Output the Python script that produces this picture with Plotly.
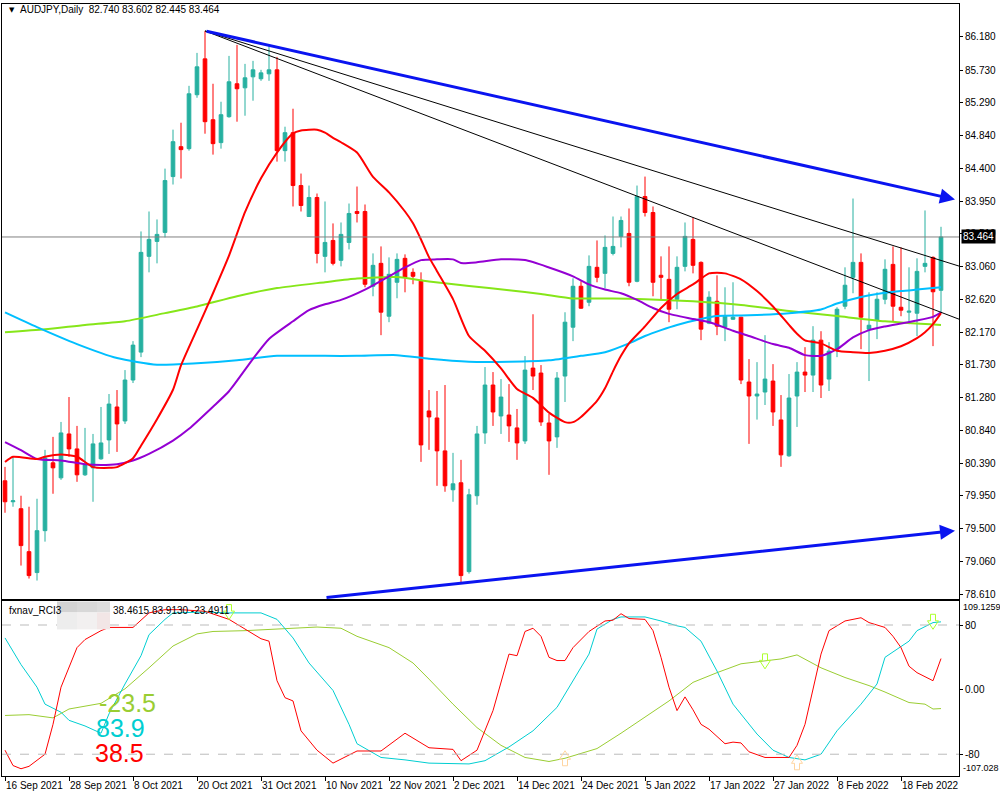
import pandas as pd
import plotly.graph_objects as go

# ---------------- data ----------------
dates = [d.strftime("%Y-%m-%d") for d in pd.bdate_range("2021-09-16", "2022-02-25")]
dates.append("2021-10-31")
dates = sorted(dates)

tick_labels = ["16 Sep 2021", "28 Sep 2021", "8 Oct 2021", "20 Oct 2021", "31 Oct 2021",
               "10 Nov 2021", "22 Nov 2021", "2 Dec 2021", "14 Dec 2021", "24 Dec 2021",
               "5 Jan 2022", "17 Jan 2022", "27 Jan 2022", "8 Feb 2022", "18 Feb 2022"]

opens = [80.154, 79.869, 79.775, 79.192, 78.908, 79.477, 80.398, 80.194, 80.790, 80.587,
         80.235, 80.330, 80.452, 80.709, 81.156, 80.966, 81.522, 81.901, 83.201, 83.404,
         83.526, 84.284, 84.690, 84.663, 85.395, 85.882, 85.056, 84.745, 85.097, 85.544,
         85.489, 85.638, 85.612, 85.679, 85.733, 84.636, 84.880, 84.162, 83.742, 84.000,
         83.201, 83.417, 83.147, 83.390, 83.810, 83.810, 82.795, 83.106, 82.388, 82.849,
         83.174, 82.984, 82.876, 81.102, 81.007, 80.560, 80.032, 80.127, 78.921, 79.951,
         80.804, 81.454, 81.034, 81.047, 80.872, 80.695, 81.684, 81.617, 80.939, 80.750,
         81.576, 82.239, 82.795, 82.578, 83.052, 82.970, 83.241, 83.472, 83.512, 82.862,
         84.013, 83.796, 82.944, 82.889, 82.618, 83.065, 83.431, 83.119, 82.294, 82.591,
         82.239, 82.347, 82.375, 81.495, 81.305, 81.359, 81.508, 80.980, 80.493, 81.305,
         81.630, 81.589, 82.063, 81.535, 81.941, 82.524, 82.916, 83.119, 82.212, 82.334,
         82.619, 83.092, 82.510, 82.443, 82.429, 83.065, 83.187, 82.740]
highs = [80.343, 80.479, 79.951, 79.802, 79.910, 80.574, 80.750, 80.953, 81.291, 80.899,
         80.872, 80.790, 81.156, 81.332, 81.386, 81.657, 82.050, 83.539, 83.810, 83.702,
         84.392, 84.921, 85.015, 85.516, 85.963, 86.261, 85.544, 85.300, 85.922, 86.072,
         85.814, 85.855, 85.733, 86.058, 85.909, 84.961, 85.205, 84.325, 84.162, 84.054,
         83.946, 83.648, 83.661, 83.918, 84.149, 83.905, 83.241, 83.336, 83.187, 83.241,
         83.228, 83.038, 82.984, 81.386, 81.373, 81.454, 80.533, 80.438, 80.045, 80.899,
         81.698, 81.630, 81.535, 81.467, 81.129, 81.847, 82.415, 81.725, 81.061, 81.630,
         82.442, 82.903, 82.862, 83.214, 83.417, 83.485, 83.742, 83.742, 83.851, 84.162,
         84.284, 83.878, 83.201, 83.336, 83.201, 83.661, 83.729, 83.133, 82.727, 82.943,
         82.781, 82.849, 82.380, 81.806, 81.765, 82.131, 81.738, 81.318, 81.603, 81.765,
         81.968, 82.253, 82.185, 82.036, 82.510, 83.052, 83.986, 83.241, 82.713, 82.713,
         83.160, 83.336, 83.323, 83.052, 83.174, 83.824, 83.200, 83.602]
lows = [79.720, 79.802, 79.003, 78.827, 78.800, 79.328, 79.978, 80.167, 80.479, 80.140,
        80.220, 79.869, 80.440, 80.519, 80.546, 80.926, 81.481, 81.833, 82.984, 83.106,
        83.458, 84.176, 84.257, 84.636, 85.354, 84.866, 84.582, 84.663, 85.083, 85.029,
        85.110, 85.314, 85.584, 85.584, 84.487, 84.487, 83.878, 83.810, 83.735, 83.106,
        82.984, 83.079, 83.065, 83.295, 83.661, 82.781, 82.659, 82.131, 82.307, 82.632,
        82.713, 82.822, 80.411, 80.574, 80.086, 80.005, 79.869, 78.759, 78.894, 79.829,
        80.655, 80.899, 80.790, 80.682, 80.438, 80.655, 81.386, 80.899, 80.235, 80.601,
        81.224, 82.050, 82.490, 82.524, 82.849, 82.768, 83.214, 83.323, 82.795, 82.849,
        83.742, 82.659, 82.618, 82.307, 82.483, 82.997, 82.970, 82.063, 82.280, 82.131,
        82.050, 82.340, 81.467, 80.655, 80.985, 81.183, 80.899, 80.343, 80.480, 80.885,
        81.359, 81.359, 81.278, 81.373, 81.833, 82.483, 82.700, 81.941, 81.508, 82.077,
        82.551, 82.321, 82.388, 82.280, 82.118, 82.984, 81.982, 82.445]
closes = [79.869, 79.882, 79.274, 78.867, 79.477, 80.465, 80.330, 80.804, 80.587, 80.235,
          80.370, 80.655, 80.668, 81.196, 80.926, 81.522, 81.996, 83.255, 83.431, 83.499,
          84.230, 84.758, 84.650, 85.408, 85.774, 85.029, 84.731, 85.124, 85.571, 85.476,
          85.625, 85.733, 85.692, 85.733, 84.636, 84.880, 84.162, 83.891, 84.000, 83.241,
          83.390, 83.106, 83.499, 83.783, 83.783, 82.822, 83.079, 82.443, 82.957, 83.160,
          82.916, 82.930, 80.641, 81.021, 80.560, 80.086, 80.113, 78.867, 79.964, 80.790,
          81.454, 81.088, 81.291, 80.899, 80.668, 81.657, 81.576, 80.953, 80.695, 81.549,
          82.307, 82.795, 82.497, 83.065, 82.916, 83.323, 83.336, 83.688, 82.849, 84.013,
          83.796, 82.849, 82.916, 82.483, 83.052, 83.472, 83.079, 82.213, 82.646, 82.253,
          82.388, 82.375, 81.522, 81.305, 81.332, 81.535, 81.088, 80.506, 81.278, 81.630,
          81.589, 82.063, 81.454, 81.915, 82.483, 82.809, 83.119, 82.375, 82.266, 82.619,
          83.025, 82.524, 82.470, 82.456, 82.997, 83.106, 82.720, 83.464]

ma_red_idx = [0, 1, 4, 5, 7, 9, 11, 13, 14, 16, 17, 19, 21, 22, 24, 26, 28, 30, 32, 34, 36, 37, 38, 39,
              40, 41, 42, 44, 46, 48, 50, 51, 52, 53, 54, 56, 58, 60, 62, 64, 66, 68, 70, 71, 72, 74,
              75, 76, 77, 78, 80, 82, 84, 86, 88, 89, 90, 92, 94, 96, 98, 99, 100, 102, 104, 106, 108,
              110, 112, 114, 115, 116, 117]
ma_red_val = [80.41, 80.48, 80.45, 80.48, 80.51, 80.48, 80.34, 80.33, 80.34, 80.46, 80.63, 80.99, 81.39,
              81.72, 82.21, 82.70, 83.21, 83.80, 84.26, 84.61, 84.87, 84.91, 84.92, 84.92, 84.88, 84.81,
              84.75, 84.61, 84.28, 84.07, 83.81, 83.65, 83.43, 83.19, 83.00, 82.62, 82.12, 81.92, 81.68,
              81.40, 81.28, 81.08, 80.95, 80.95, 81.02, 81.24, 81.41, 81.64, 81.85, 82.02, 82.25, 82.50,
              82.69, 82.82, 82.97, 82.98, 82.97, 82.89, 82.73, 82.52, 82.27, 82.15, 82.06, 82.02, 81.92,
              81.90, 81.89, 81.92, 81.98, 82.09, 82.17, 82.28, 82.43]

ma_purple_idx = [0, 2, 4, 7, 10, 12, 14, 16, 18, 21, 23, 26, 28, 31, 33, 36, 38, 40, 42, 45, 48, 50, 52,
                 54, 56, 57, 59, 62, 65, 68, 71, 73, 75, 77, 79, 81, 83, 86, 88, 91, 93, 96, 98, 100,
                 102, 104, 106, 108, 110, 112, 114, 116, 117]
ma_purple_val = [80.68, 80.57, 80.45, 80.43, 80.38, 80.37, 80.38, 80.43, 80.52, 80.70, 80.86, 81.16,
                 81.37, 81.81, 82.08, 82.32, 82.47, 82.55, 82.61, 82.75, 82.93, 83.05, 83.15, 83.16,
                 83.16, 83.11, 83.12, 83.16, 83.15, 83.05, 82.93, 82.82, 82.75, 82.70, 82.61, 82.50,
                 82.42, 82.35, 82.31, 82.19, 82.12, 82.01, 81.96, 81.86, 81.85, 81.94, 82.10, 82.20,
                 82.25, 82.29, 82.33, 82.38, 82.44]

ma_green_idx = [0, 5, 10, 15, 20, 24, 29, 34, 40, 44, 49, 53, 58, 63, 67, 71, 76, 80, 86, 92, 98, 104,
                110, 117]
ma_green_val = [82.17, 82.21, 82.27, 82.32, 82.43, 82.52, 82.66, 82.77, 82.85, 82.90, 82.92, 82.86,
                82.80, 82.74, 82.69, 82.63, 82.63, 82.62, 82.59, 82.54, 82.46, 82.39, 82.32, 82.27]

ma_blue_idx = [0, 4, 9, 14, 19, 24, 29, 34, 40, 44, 49, 53, 58, 63, 68, 72, 75, 78, 80, 82, 84, 87, 89,
               93, 98, 102, 104, 107, 109, 112, 114, 117]
ma_blue_val = [82.44, 82.24, 82.01, 81.82, 81.73, 81.75, 81.79, 81.85, 81.85, 81.85, 81.86, 81.81,
               81.77, 81.77, 81.79, 81.85, 81.90, 82.02, 82.12, 82.20, 82.27, 82.35, 82.39, 82.40,
               82.43, 82.48, 82.56, 82.65, 82.69, 82.73, 82.75, 82.78]

rci_red_idx = [0, 1, 2, 3, 5, 6, 7, 9, 10, 12, 13, 16, 17, 18, 20, 22, 25, 28, 30, 32, 33, 34, 35, 36,
               37, 39, 41, 42, 44, 47, 48, 50, 51, 53, 56, 57, 59, 61, 63, 64, 65, 66, 67, 68, 69, 70,
               71, 73, 75, 76, 77, 78, 80, 81, 82, 83, 84, 85, 86, 87, 88, 90, 91, 92, 93, 95, 98, 99,
               100, 101, 102, 103, 105, 107, 108, 110, 111, 112, 113, 114, 116, 117]
rci_red_val = [-75, -94, -98, -95, -80, -43, 3, 52, 62, 73, 77, 77, 86, 95, 99, 99, 97, 87, 75, 63, 60,
               11, -10, -14, -51, -75, -91, -86, -76, -76, -69, -54, -60, -72, -74, -88, -75, -26, 44,
               42, 72, 76, 66, 40, 36, 36, 52, 72, 85, 86, 94, 88, 87, 73, 40, 3, -26, -9, -25, -43,
               -49, -67, -65, -66, -77, -84, -84, -69, -43, -1, 44, 73, 85, 89, 83, 77, 66, 52, 29,
               21, 11, 38.4615]

rci_cyan_idx = [0, 2, 4, 5, 7, 8, 10, 11, 12, 13, 15, 17, 18, 20, 21, 25, 28, 32, 34, 36, 38, 41, 43,
                44, 47, 50, 53, 58, 60, 63, 66, 69, 71, 73, 74, 76, 77, 80, 82, 84, 85, 87, 89, 91, 94,
                96, 98, 100, 102, 104, 107, 109, 110, 113, 114, 116, 117]
rci_cyan_val = [64, 31, 3, -18, -28, -38, -45, -50, -54, -30, 7, 42, 68, 87, 95, 96, 95, 95, 87, 64,
                33, -1, -43, -67, -84, -87, -91, -92, -88, -71, -51, -22, 11, 44, 75, 87, 90, 90, 85,
                79, 77, 60, 23, -18, -55, -75, -84, -87, -80, -51, -18, 7, 40, 60, 73, 83, 83.913]

rci_green_idx = [0, 3, 6, 8, 12, 15, 18, 21, 24, 26, 30, 34, 37, 39, 42, 44, 48, 51, 53, 56, 59, 62,
                 65, 68, 70, 74, 77, 80, 83, 86, 89, 92, 95, 97, 99, 102, 105, 108, 110, 113, 115,
                 116, 117]
rci_green_val = [-32, -31, -35, -24, -17, 1, 27, 54, 69, 72, 73, 75, 76, 77.5, 76, 66, 52, 33, 13, -18,
                 -47, -69, -84, -89, -85, -73, -54, -34, -14, 9, 21, 32, 36, 38, 43, 27, 15, 5, -3,
                 -16, -18, -24, -23.4911]

sig_down_idx = [28, 95, 116]
sig_down_val = [96, 35, 84]
sig_up_idx = [70, 99]
sig_up_val = [-85, -90]

price_ticks = [86.180, 85.730, 85.290, 84.840, 84.400, 83.950, 83.510, 83.060, 82.620, 82.170,
               81.730, 81.280, 80.840, 80.390, 79.950, 79.500, 79.060, 78.610]
rci_ticks = [80, 0, -80]
rci_tick_text = ["80", "0.00", "-80"]

peak_idx, peak_price = 25, 86.261
blue_up_end = (118.75, 83.973)
fan_ends = [(119.25, 83.069), (119.25, 82.348)]
blue_low_start = (40, 78.567)
blue_low_end = (118.75, 79.477)

# ---------------- figure ----------------
FONT = "Liberation Sans"
XR = [-0.375, 119.25]

fig = go.Figure()

fig.add_trace(go.Candlestick(
    x=dates, open=opens, high=highs, low=lows, close=closes,
    increasing=dict(line=dict(color="#26B0A0", width=1), fillcolor="#26B0A0"),
    decreasing=dict(line=dict(color="#FF0000", width=1), fillcolor="#FF0000"),
    whiskerwidth=0, xaxis="x", yaxis="y", hoverinfo="skip"))

for idx, val, col in [(ma_green_idx, ma_green_val, "#86E619"),
                      (ma_blue_idx, ma_blue_val, "#00BFFF"),
                      (ma_purple_idx, ma_purple_val, "#9400D3"),
                      (ma_red_idx, ma_red_val, "#FF0000")]:
    fig.add_trace(go.Scatter(x=[dates[i] for i in idx], y=val, mode="lines",
                             line=dict(color=col, width=2, shape="spline", smoothing=0.6),
                             xaxis="x", yaxis="y", hoverinfo="skip"))

for idx, val, col in [(rci_green_idx, rci_green_val, "#9ACD32"),
                      (rci_cyan_idx, rci_cyan_val, "#00CED1"),
                      (rci_red_idx, rci_red_val, "#FF0000")]:
    fig.add_trace(go.Scatter(x=[dates[i] for i in idx], y=val, mode="lines",
                             line=dict(color=col, width=1),
                             xaxis="x2", yaxis="y2", hoverinfo="skip"))

shapes = []
# current price line
shapes.append(dict(type="line", xref="x", yref="y", x0=XR[0], x1=XR[1],
                   y0=closes[-1], y1=closes[-1], line=dict(color="#808080", width=1)))
# fan lines
for ex, ey in fan_ends:
    shapes.append(dict(type="line", xref="x", yref="y", x0=peak_idx, y0=peak_price,
                       x1=ex, y1=ey, line=dict(color="black", width=1)))
# RCI levels
for lv in [80, -80]:
    shapes.append(dict(type="line", xref="x2", yref="y2", x0=XR[0], x1=XR[1], y0=lv, y1=lv,
                       line=dict(color="#BBBBBB", width=1, dash="dash")))
# censored box in indicator title
for (x0, x1, y0, y1, c) in [(57, 77, 603, 614, "#D3D3D3"), (77, 97, 603, 614, "#D8D8D8"),
                            (97, 110, 603, 614, "#DDDDDD"), (57, 77, 614, 631, "#EDEDED"),
                            (77, 97, 614, 631, "#F2F0F0"), (97, 110, 614, 631, "#F2E6E6")]:
    shapes.append(dict(type="rect", xref="paper", yref="paper", x0=x0 / 1000, x1=x1 / 1000,
                       y0=1 - y1 / 800, y1=1 - y0 / 800, fillcolor=c, line=dict(width=0),
                       layer="above"))
# hollow signal arrows (fixed pixel size, anchored at data points)
down_path = "M -2.5,7.5 L 2.5,7.5 L 2.5,1 L 5.5,1 L 0,-7.5 L -5.5,1 L -2.5,1 Z"
up_path = "M -2.5,-7.5 L 2.5,-7.5 L 2.5,-1 L 5.5,-1 L 0,7.5 L -5.5,-1 L -2.5,-1 Z"
for i, v in zip(sig_down_idx, sig_down_val):
    shapes.append(dict(type="path", xref="x2", yref="y2", xsizemode="pixel", ysizemode="pixel",
                       xanchor=dates[i], yanchor=v, path=down_path,
                       line=dict(color="#ADFF2F", width=1), layer="above"))
for i, v in zip(sig_up_idx, sig_up_val):
    shapes.append(dict(type="path", xref="x2", yref="y2", xsizemode="pixel", ysizemode="pixel",
                       xanchor=dates[i], yanchor=v, path=up_path,
                       line=dict(color="#FFD5A0", width=1), layer="above"))

annotations = []
# trend arrows (blue)
annotations.append(dict(x=blue_up_end[0], y=blue_up_end[1], ax=peak_idx, ay=peak_price,
                        xref="x", yref="y", axref="x", ayref="y", text="", showarrow=True,
                        arrowhead=2, arrowsize=1, arrowwidth=3, arrowcolor="#0A14F0", standoff=0))
annotations.append(dict(x=blue_low_end[0], y=blue_low_end[1], ax=blue_low_start[0], ay=blue_low_start[1],
                        xref="x", yref="y", axref="x", ayref="y", text="", showarrow=True,
                        arrowhead=2, arrowsize=1, arrowwidth=3, arrowcolor="#0A14F0", standoff=0))
# current price tag
annotations.append(dict(x=0.961, y=closes[-1], xref="paper", yref="y", xanchor="left",
                        yanchor="middle", text="83.464", showarrow=False, bgcolor="black",
                        font=dict(family=FONT, size=10, color="white"), borderpad=1))
# titles
annotations.append(dict(x=0.007, y=1 - 10 / 800, xref="paper", yref="paper", xanchor="left",
                        yanchor="middle", text="▼", showarrow=False,
                        font=dict(family="DejaVu Sans", size=7, color="black")))
annotations.append(dict(x=0.018, y=1 - 10 / 800, xref="paper", yref="paper", xanchor="left",
                        yanchor="middle", text="AUDJPY,Daily  82.740 83.602 82.445 83.464",
                        showarrow=False, font=dict(family=FONT, size=10, color="black")))
annotations.append(dict(x=0.007, y=1 - 612 / 800, xref="paper", yref="paper", xanchor="left",
                        yanchor="middle", text="fxnav_RCI3", showarrow=False,
                        font=dict(family=FONT, size=10, color="black")))
annotations.append(dict(x=0.111, y=1 - 612 / 800, xref="paper", yref="paper", xanchor="left",
                        yanchor="middle", text="38.4615 83.9130 -23.4911", showarrow=False,
                        font=dict(family=FONT, size=10, color="black")))
# RCI range labels
annotations.append(dict(x=0.961, y=1 - 609 / 800, xref="paper", yref="paper", xanchor="left",
                        yanchor="middle", text="109.1259", showarrow=False,
                        font=dict(family=FONT, size=9, color="black")))
annotations.append(dict(x=0.961, y=1 - 770 / 800, xref="paper", yref="paper", xanchor="left",
                        yanchor="middle", text="-107.028", showarrow=False,
                        font=dict(family=FONT, size=9, color="black")))
# big RCI values
for txt, col, yy, xx in [("-23.5", "#9ACD32", 705, 0.097), ("83.9", "#00CED1", 730, 0.094),
                         ("38.5", "#FF0000", 755, 0.093)]:
    annotations.append(dict(x=xx, y=1 - yy / 800, xref="paper", yref="paper", xanchor="left",
                            yanchor="middle", text=txt, showarrow=False,
                            font=dict(family=FONT, size=25, color=col)))

axis_common = dict(showgrid=False, zeroline=False, showline=True, linecolor="black",
                   linewidth=1, mirror=True)

fig.update_layout(
    width=1000, height=800, margin=dict(l=0, r=0, t=0, b=0),
    paper_bgcolor="white", plot_bgcolor="white", showlegend=False,
    boxgap=0.35,
    xaxis=dict(domain=[0.002, 0.959], range=XR, type="category", categoryorder="array",
               categoryarray=dates, showticklabels=False, ticks="", anchor="y",
               rangeslider=dict(visible=False), **axis_common),
    yaxis=dict(domain=[0.25, 0.995], range=[78.556, 86.627], side="right", anchor="x",
               tickvals=price_ticks, ticktext=[f"{t:.3f}" for t in price_ticks],
               ticks="outside", ticklen=3, tickcolor="black",
               tickfont=dict(family=FONT, size=10, color="black"), **axis_common),
    xaxis2=dict(domain=[0.002, 0.959], range=XR, type="category", categoryorder="array",
                categoryarray=dates, anchor="y2", tickvals=dates[0::8], ticktext=tick_labels,
                ticks="outside", ticklen=4, tickcolor="black", ticklabelposition="outside right",
                tickangle=0, tickfont=dict(family=FONT, size=10, color="black"), **axis_common),
    yaxis2=dict(domain=[0.0275, 0.24625], range=[-107.028, 109.1259], side="right", anchor="x2",
                tickvals=rci_ticks, ticktext=rci_tick_text, ticks="outside", ticklen=3,
                tickcolor="black", tickfont=dict(family=FONT, size=10, color="black"),
                **axis_common),
    shapes=shapes, annotations=annotations,
)

fig.write_html("out.html")
